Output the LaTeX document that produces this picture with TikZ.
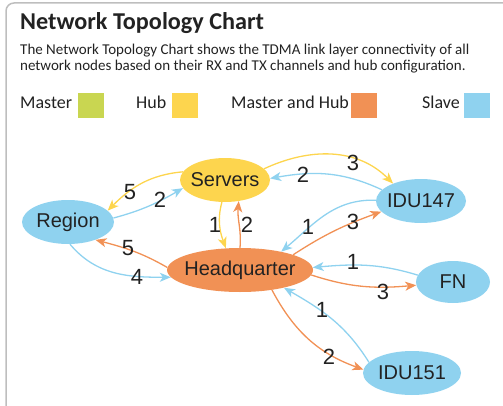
\documentclass[tikz,border=0pt]{standalone}
\usepackage{fontspec}
\setmainfont{Carlito}
\newfontfamily\arialf{Liberation Sans}
\usetikzlibrary{arrows.meta,shapes.geometric}
\definecolor{cgreen}{HTML}{C9D651}
\definecolor{cyellow}{HTML}{FDD54E}
\definecolor{corange}{HTML}{F19155}
\definecolor{cblue}{HTML}{8FD2EF}
\definecolor{ctext}{HTML}{222222}
\definecolor{cframe}{HTML}{BEBEBE}
\newcommand\zerowd[1]{\makebox[0pt]{#1}}
\begin{document}
\begin{tikzpicture}[x=1pt,y=1pt,
  nd/.style={ellipse, inner sep=0pt, text=ctext, font=\arialf\fontsize{20}{24}\selectfont},
  ed/.style={line width=1.3pt, -{Stealth[length=11pt,width=9pt,inset=3pt]}},
  ey/.style={ed, draw=cyellow},
  eb/.style={ed, draw=cblue},
  eo/.style={ed, draw=corange},
  el/.style={text=ctext, inner sep=0pt, font=\arialf\fontsize{22}{26}\selectfont},
  sq/.style={minimum width=26pt, minimum height=25pt, inner sep=0pt},
  lg/.style={anchor=base west, inner sep=0pt, text=ctext, font=\fontsize{18}{22}\selectfont},
  ds/.style={anchor=base west, inner sep=0pt, text=ctext, font=\fontsize{15}{18}\selectfont}
]
\useasboundingbox (0,0) rectangle (503,405);
\clip (0,0) rectangle (503,405);
\draw[cframe, line width=1.5pt, rounded corners=8pt] (6,-10) -- (6,402) -- (520,402);

% title and description
\node[anchor=base west, inner sep=0pt, text=ctext, font=\bfseries\fontsize{24.2}{28}\selectfont] (title) at (20,375) {Network Topology Chart};
\node[ds] (desc1) at (20,350.5) {The Network Topology Chart shows the TDMA link layer connectivity of all};
\node[ds] (desc2) at (20,334) {network nodes based on their RX and TX channels and hub configuration.};

% legend
\node[lg] (lmaster) at (20,296) {Master};
\node[sq, fill=cgreen] (smaster) at (91,299.5) {};
\node[lg] (lhub) at (136,296) {Hub};
\node[sq, fill=cyellow] (shub) at (185,299.5) {};
\node[lg] (lmh) at (231,296) {Master and Hub};
\node[sq, fill=corange] (smh) at (364,299.5) {};
\node[lg] (lslave) at (422,296) {Slave};
\node[sq, fill=cblue] (sslave) at (477,299.5) {};

% nodes
\node[nd, fill=cyellow, minimum width=90pt, minimum height=44pt] (srv) at (225,225) {\zerowd{Servers}};
\node[nd, fill=cblue, minimum width=92pt, minimum height=44pt] (reg) at (68,183) {\zerowd{Region}};
\node[nd, fill=corange, minimum width=146pt, minimum height=44pt] (hq) at (240,135) {\zerowd{Headquarter}};
\node[nd, fill=cblue, minimum width=90pt, minimum height=44pt] (i147) at (421,204) {\zerowd{IDU147}};
\node[nd, fill=cblue, minimum width=74pt, minimum height=42pt] (fn) at (453,123) {\zerowd{FN}};
\node[nd, fill=cblue, minimum width=98pt, minimum height=44pt] (i151) at (412,32) {\zerowd{IDU151}};

% edges
\draw[ey] (srv.169) to[out=185, in=45] (reg.16);
\draw[eb] (reg.5) to[out=15, in=210] (srv.191);
\draw[ey] (srv.262) to[out=255, in=110] (hq.123);
\draw[eo] (hq.90) to[out=85, in=265] (srv.303);
\draw[ey] (srv.16) to[out=25, in=135] (i147.148);
\draw[eb] (i147.164) to[out=155, in=10] (srv.2);
\draw[eb] (i147.179) to[out=178, in=40] (hq.24);
\draw[eo] (hq.16) to[out=33, in=200] (i147.195);
\draw[eo] (hq.178) to[out=150, in=-15] (reg.327);
\draw[eb] (reg.275) to[out=-50, in=180] (hq.186);
\draw[eb] (fn.169) to[out=163, in=5] (hq.2);
\draw[eo] (hq.356) to[out=-18, in=185] (fn.185);
\draw[eb] (i151.166) to[out=122, in=-30] (hq.338);
\draw[eo] (hq.328) to[out=-62, in=160] (i151.176);

% edge labels
\node[el] (t1) at (130,213) {5};
\node[el] (t2) at (160,205) {2};
\node[el] (t3) at (215,180) {1};
\node[el] (t4) at (247,180) {2};
\node[el] (t5) at (353,242) {3};
\node[el] (t6) at (303,230) {2};
\node[el] (t7) at (308,178) {1};
\node[el] (t8) at (353,183) {3};
\node[el] (t9) at (128,157) {5};
\node[el] (t10) at (137,128) {4};
\node[el] (t11) at (353,143) {1};
\node[el] (t12) at (383,113) {3};
\node[el] (t13) at (322,95) {1};
\node[el] (t14) at (329,48) {2};
\end{tikzpicture}
\end{document}
